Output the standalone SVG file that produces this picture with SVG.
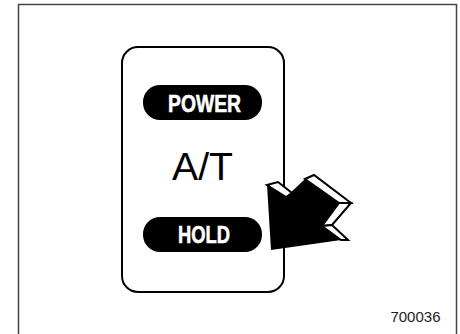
<svg xmlns="http://www.w3.org/2000/svg" width="460" height="334" viewBox="0 0 460 334">
<style>
.pill{fill:#000}
.lbl{font-family:"Liberation Sans",Arial,sans-serif;font-weight:bold;font-size:24px;fill:#fff;stroke:#fff;stroke-width:0.6;text-anchor:middle}
.face{fill:#fff;stroke:#000;stroke-width:2;stroke-linejoin:miter}
</style>
<rect width="460" height="334" fill="#fff"/>
<rect x="18.5" y="4.5" width="438" height="340" fill="none" stroke="#444" stroke-width="1.5"/>
<g id="panel">
<rect x="122" y="47" width="162" height="245" rx="16" fill="#fff" stroke="#000" stroke-width="2"/>
</g>
<g id="power">
<rect class="pill" x="143" y="85" width="119" height="35" rx="17"/>
<text class="lbl" x="204.5" y="112" textLength="73" lengthAdjust="spacingAndGlyphs">POWER</text>
</g>
<g id="at">
<text x="202.5" y="180" font-family="Liberation Sans, Arial, sans-serif" font-size="38" text-anchor="middle" fill="#000" textLength="61" lengthAdjust="spacingAndGlyphs">A/T</text>
</g>
<g id="hold">
<rect class="pill" x="143" y="217" width="119" height="35" rx="17"/>
<text class="lbl" x="204" y="243" textLength="52" lengthAdjust="spacingAndGlyphs">HOLD</text>
</g>
<g id="arrow">
<polygon class="face" points="267,185 278,182 292,193 286,197"/>
<polygon class="face" points="305,179 314,175 351,203 339,203"/>
<polygon class="face" points="339,203 351,203 332,225 322,226"/>
<polygon class="face" points="322,226 332,225 348,240 341,240"/>
<polygon fill="#000" points="267,185 286,197 305,179 339,203 322,226 341,240 271,250"/>
</g>
<text x="440.5" y="322" font-family="Liberation Sans, Arial, sans-serif" font-size="15" text-anchor="end" fill="#222">700036</text>
</svg>
